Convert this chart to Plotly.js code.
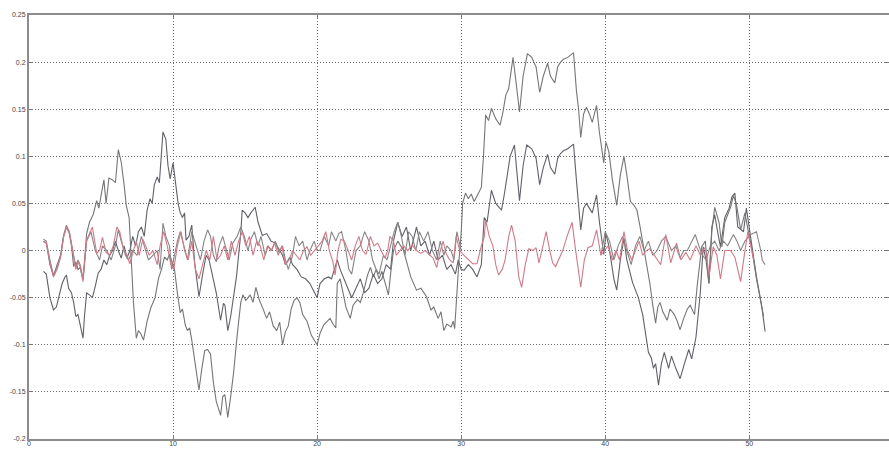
<!DOCTYPE html>
<html>
<head>
<meta charset="utf-8">
<script src="https://cdn.plot.ly/plotly-3.0.1.min.js"></script>
<style>
html,body{margin:0;padding:0;background:#fff;}
#chart{width:889px;height:449px;}
</style>
</head>
<body>
<div id="chart"></div>
<script>
// Series P (gray, starts lower)
const pX = [1.0,1.2,1.45,1.7,1.9,2.1,2.3,2.5,2.6,2.75,2.95,3.1,3.25,3.4,3.55,3.75,3.85,4.0,4.2,4.4,4.6,4.8,5.0,5.2,5.4,5.6,5.8,6.0,6.2,6.4,6.6,6.8,7.0,7.2,7.4,7.6,7.8,8.0,8.2,8.4,8.55,8.7,8.9,9.05,9.3,9.5,9.65,9.8,10.0,10.2,10.35,10.5,10.65,10.8,10.9,11.1,11.3,11.5,11.7,11.8,12.1,12.3,12.5,12.7,13.0,13.3,13.5,13.6,13.8,14.0,14.4,14.7,14.8,15.0,15.2,15.4,15.7,15.9,16.2,16.5,16.8,17.1,17.4,17.6,17.8,18.1,18.3,18.6,18.9,19.2,19.5,19.8,20.0,20.2,20.5,20.8,21.0,21.2,21.4,21.6,22.0,22.4,22.7,23.0,23.3,23.6,23.9,24.2,24.5,24.8,25.1,25.3,25.6,25.9,26.2,26.5,26.9,27.2,27.5,27.8,28.1,28.4,28.7,29.0,29.3,29.6,29.8,30.0,30.2,30.5,30.8,31.1,31.4,31.6,31.8,32.1,32.4,32.8,33.0,33.2,33.4,33.7,33.85,34.05,34.3,34.55,34.9,35.2,35.45,35.7,36.0,36.2,36.5,36.7,36.9,37.1,37.4,37.8,38.0,38.15,38.3,38.5,38.7,38.9,39.1,39.4,39.6,39.9,40.05,40.25,40.6,40.8,41.05,41.3,41.5,41.9,42.3,42.6,42.8,43.0,43.2,43.35,43.5,43.7,43.9,44.1,44.4,44.6,44.9,45.2,45.5,45.8,46.0,46.3,46.6,46.8,47.0,47.2,47.4,47.6,47.8,48.0,48.3,48.6,48.8,49.0,49.2,49.6,49.8,50.1,50.5,50.7,50.9,51.1];
const pY = [-0.022,-0.025,-0.05,-0.063,-0.06,-0.048,-0.035,-0.028,-0.026,-0.04,-0.045,-0.055,-0.07,-0.068,-0.078,-0.093,-0.07,-0.045,-0.047,-0.05,-0.038,-0.024,-0.02,-0.01,-0.015,-0.005,0.0,0.01,0.0,-0.008,0.005,-0.008,0.0,0.015,0.005,0.02,0.025,0.015,0.043,0.055,0.05,0.07,0.078,0.072,0.126,0.118,0.09,0.076,0.093,0.07,0.05,0.04,0.035,0.04,0.011,0.015,0.027,-0.013,-0.042,-0.049,-0.021,-0.005,-0.01,-0.025,-0.045,-0.074,-0.056,-0.058,-0.085,-0.07,-0.028,0.018,0.043,0.04,0.035,0.04,0.046,0.03,0.016,0.018,0.01,0.008,0.0,-0.005,-0.015,-0.007,-0.015,-0.02,-0.028,-0.03,-0.035,-0.045,-0.05,-0.035,-0.03,-0.028,-0.03,-0.02,-0.01,-0.02,-0.035,-0.05,-0.04,-0.03,-0.045,-0.04,-0.025,-0.035,-0.03,-0.015,-0.02,0.01,0.03,0.015,0.025,0.0,0.025,0.005,0.01,-0.005,0.01,-0.01,-0.005,-0.02,-0.015,-0.025,-0.01,-0.02,-0.021,-0.015,-0.02,-0.028,-0.015,0.035,0.03,0.064,0.05,0.043,0.06,0.082,0.1,0.112,0.085,0.053,0.09,0.112,0.108,0.098,0.07,0.088,0.102,0.088,0.081,0.098,0.103,0.106,0.108,0.113,0.075,0.05,0.022,0.045,0.05,0.045,0.04,0.059,0.03,-0.004,0.018,0.005,-0.03,-0.042,-0.01,0.013,-0.01,-0.034,-0.05,-0.068,-0.09,-0.108,-0.114,-0.125,-0.12,-0.143,-0.12,-0.108,-0.125,-0.112,-0.125,-0.136,-0.12,-0.105,-0.115,-0.092,-0.045,0.004,-0.01,-0.035,0.025,0.038,0.02,0.004,0.035,0.045,0.057,0.061,0.025,0.02,0.045,0.013,-0.028,-0.045,-0.063,-0.086];

// Series Q (gray, big excursions)
const qX = [1.0,1.2,1.45,1.7,1.95,2.2,2.4,2.6,2.8,2.95,3.1,3.25,3.4,3.55,3.75,4.0,4.2,4.45,4.7,4.85,5.0,5.2,5.35,5.55,5.8,6.0,6.2,6.4,6.6,6.75,6.95,7.1,7.25,7.45,7.6,7.75,7.95,8.2,8.45,8.75,9.0,9.2,9.4,9.6,9.75,9.95,10.1,10.3,10.5,10.65,10.85,11.0,11.15,11.3,11.5,11.65,11.8,12.0,12.2,12.4,12.6,12.8,13.0,13.3,13.45,13.6,13.8,14.0,14.2,14.45,14.7,14.85,15.05,15.35,15.55,15.75,16.0,16.2,16.5,16.7,16.95,17.2,17.4,17.6,17.8,18.0,18.2,18.4,18.6,18.8,19.0,19.3,19.6,20.0,20.2,20.45,20.7,20.9,21.1,21.3,21.4,21.6,21.8,22.0,22.3,22.5,22.8,23.0,23.2,23.5,23.7,23.9,24.1,24.3,24.5,24.8,24.95,25.1,25.3,25.6,26.0,26.5,26.9,27.2,27.6,27.9,28.1,28.4,28.6,28.8,29.0,29.3,29.45,29.55,29.7,29.85,30.0,30.1,30.3,30.5,30.7,30.9,31.1,31.4,31.55,31.7,31.9,32.1,32.4,32.7,32.9,33.1,33.3,33.6,33.8,34.05,34.3,34.6,34.9,35.2,35.45,35.7,36.0,36.2,36.5,36.7,36.9,37.1,37.4,37.8,38.0,38.15,38.3,38.5,38.7,38.9,39.1,39.4,39.6,39.9,40.05,40.25,40.5,40.8,41.05,41.3,41.5,41.75,42.0,42.2,42.4,42.7,43.1,43.3,43.5,43.65,43.8,44.0,44.3,44.5,44.8,45.0,45.2,45.45,45.7,45.9,46.2,46.4,46.7,46.95,47.2,47.4,47.6,47.9,48.1,48.3,48.7,48.9,49.1,49.4,49.7,49.9,50.2,50.5,50.8,51.0];
const qY = [0.01,0.008,-0.015,-0.027,-0.015,-0.005,0.015,0.025,0.018,0.005,-0.017,-0.012,-0.02,-0.018,-0.031,0.018,0.03,0.038,0.053,0.045,0.058,0.075,0.05,0.077,0.075,0.072,0.107,0.094,0.07,0.048,0.035,-0.01,-0.055,-0.093,-0.085,-0.088,-0.095,-0.075,-0.061,-0.05,-0.029,-0.02,-0.007,-0.01,-0.004,-0.013,-0.02,-0.045,-0.066,-0.062,-0.079,-0.085,-0.082,-0.095,-0.118,-0.13,-0.148,-0.125,-0.106,-0.105,-0.11,-0.14,-0.16,-0.175,-0.155,-0.153,-0.177,-0.155,-0.13,-0.09,-0.055,-0.047,-0.053,-0.047,-0.055,-0.039,-0.053,-0.06,-0.072,-0.065,-0.08,-0.085,-0.076,-0.1,-0.086,-0.08,-0.062,-0.053,-0.05,-0.055,-0.068,-0.075,-0.09,-0.1,-0.088,-0.079,-0.075,-0.072,-0.078,-0.082,-0.035,-0.03,-0.045,-0.06,-0.072,-0.058,-0.052,-0.055,-0.045,-0.026,-0.018,-0.028,-0.02,-0.03,-0.022,-0.039,-0.047,-0.025,0.0,0.01,0.0,-0.028,-0.042,-0.04,-0.049,-0.063,-0.06,-0.072,-0.065,-0.085,-0.078,-0.081,-0.075,-0.083,-0.042,-0.01,0.018,0.05,0.061,0.055,0.06,0.052,0.058,0.067,0.1,0.144,0.138,0.151,0.14,0.133,0.147,0.165,0.172,0.205,0.18,0.147,0.185,0.209,0.205,0.195,0.168,0.185,0.199,0.185,0.178,0.195,0.2,0.203,0.205,0.21,0.17,0.15,0.12,0.145,0.152,0.145,0.136,0.154,0.125,0.093,0.115,0.105,0.075,0.048,0.08,0.1,0.08,0.052,0.048,0.043,0.027,0.0,-0.035,-0.058,-0.077,-0.06,-0.055,-0.065,-0.074,-0.062,-0.068,-0.075,-0.084,-0.072,-0.062,-0.058,-0.068,-0.035,0.004,0.01,-0.035,0.02,0.046,0.03,0.004,0.03,0.046,0.058,0.05,0.022,0.04,0.023,0.0,-0.03,-0.055,-0.07];

// Series C (gray, near zero)
const cX = [1.0,1.2,1.45,1.7,1.95,2.2,2.4,2.6,2.8,3.1,3.25,3.4,3.55,3.75,4.0,4.3,4.6,4.9,5.1,5.4,5.7,6.0,6.2,6.4,6.7,6.9,7.2,7.5,7.8,8.1,8.3,8.6,8.9,9.1,9.3,9.5,9.75,9.9,10.1,10.3,10.5,10.8,11.0,11.3,11.6,11.9,12.15,12.4,12.6,12.8,13.0,13.2,13.45,13.7,13.9,14.15,14.45,14.7,14.95,15.2,15.4,15.65,15.9,16.1,16.4,16.6,16.85,17.1,17.35,17.6,17.8,18.0,18.3,18.5,18.75,19.0,19.3,19.5,19.8,20.0,20.2,20.5,20.8,21.0,21.3,21.5,21.7,22.0,22.2,22.4,22.7,23.0,23.3,23.6,23.85,24.1,24.3,24.6,24.85,25.1,25.35,25.6,25.85,26.1,26.35,26.6,26.85,27.1,27.4,27.7,28.0,28.3,28.55,28.8,29.0,29.3,29.5,29.7,30.0,35.0,39.7,40.0,40.3,40.6,40.9,41.2,41.5,41.8,42.1,42.4,42.7,43.0,43.3,43.6,43.9,44.2,44.6,44.9,45.2,45.45,45.7,46.0,46.25,46.5,46.75,47.0,47.3,47.6,47.9,48.2,48.5,48.9,49.15,49.4,49.7,50.1,50.5,50.8,50.9,51.1];
const cY = [0.012,0.01,-0.01,-0.026,-0.018,-0.004,0.016,0.027,0.02,-0.005,-0.018,-0.01,-0.015,-0.03,0.01,0.02,0.0,-0.01,0.005,0.0,-0.01,0.005,0.022,0.01,-0.005,-0.01,0.0,-0.005,0.015,0.0,-0.01,-0.005,0.0,-0.02,0.029,0.015,0.005,-0.02,-0.005,0.01,0.02,0.0,-0.01,0.02,0.005,-0.01,0.01,0.022,0.015,-0.005,-0.012,0.005,0.015,0.0,-0.01,0.008,0.015,0.025,0.015,0.0,0.012,0.02,0.005,0.015,-0.005,0.005,0.0,0.01,-0.002,0.005,-0.01,-0.02,-0.005,0.015,0.005,0.01,-0.01,0.0,0.01,0.0,0.0,0.015,0.005,0.02,0.01,0.018,0.02,0.0,-0.02,-0.025,0.0,0.005,0.02,0.01,-0.01,-0.02,-0.025,-0.005,-0.01,0.005,0.02,0.03,0.015,-0.005,0.02,0.015,0.0,0.02,0.01,0.02,0.0,-0.01,0.01,-0.005,0.005,0.0,-0.01,0.02,0.0,null,-0.005,0.02,0.01,-0.01,0.005,0.015,0.0,-0.015,0.005,0.015,0.0,0.01,-0.005,0.0,0.01,0.015,0.0,0.005,-0.008,0.0,0.0,0.01,0.017,0.005,-0.005,-0.01,0.005,0.01,0.0,0.01,0.005,0.017,0.01,0.0,0.01,0.017,0.02,0.0,-0.01,-0.015];

// Series R (red, near zero)
const rX = [1.0,1.2,1.45,1.7,1.95,2.2,2.4,2.6,2.8,3.1,3.25,3.4,3.55,3.75,4.0,4.4,4.7,4.9,5.1,5.35,5.6,5.85,6.1,6.3,6.55,6.8,7.0,7.25,7.45,7.65,7.9,8.1,8.35,8.6,8.9,9.1,9.35,9.6,9.85,10.05,10.3,10.55,10.8,11.05,11.3,11.55,11.8,12.05,12.3,12.55,12.8,13.05,13.3,13.55,13.8,14.05,14.3,14.55,14.8,15.05,15.3,15.55,15.8,16.05,16.3,16.55,16.8,17.05,17.3,17.55,17.8,18.05,18.3,18.55,18.8,19.05,19.3,19.55,19.8,20.05,20.35,20.6,20.85,21.1,21.25,21.45,21.65,21.9,22.15,22.4,22.65,22.9,23.15,23.4,23.7,23.95,24.2,24.45,24.7,24.9,25.05,25.3,25.5,25.75,26.0,26.3,26.6,26.9,27.2,27.5,27.8,28.05,28.3,28.55,28.75,28.95,29.2,29.45,29.65,29.9,30.2,30.5,30.8,31.1,31.4,31.6,31.7,31.95,32.2,32.4,32.6,32.85,33.05,33.3,33.5,33.75,34.0,34.2,34.45,34.7,35.0,35.2,35.4,35.65,35.9,36.15,36.35,36.55,36.8,37.05,37.35,37.7,37.95,38.3,38.55,38.8,39.1,39.4,39.7,39.95,40.2,40.5,40.75,41.0,41.3,41.55,41.85,42.1,42.35,42.6,42.85,43.1,43.4,43.85,44.2,44.55,44.95,45.25,45.6,45.9,46.3,46.6,46.9,47.0,47.2,47.5,47.75,48.0,48.3,48.7,49.0,49.4,49.7,49.9,50.1,50.3];
const rY = [0.009,0.008,-0.012,-0.028,-0.02,-0.007,0.014,0.025,0.02,-0.007,-0.02,-0.012,-0.017,-0.033,0.011,0.025,-0.003,0.0,0.014,-0.002,-0.005,0.005,0.025,0.02,0.002,-0.005,-0.014,0.0,0.01,-0.005,0.012,0.005,-0.005,0.0,-0.015,0.005,0.02,0.005,-0.015,-0.02,0.005,0.02,0.0,-0.01,0.01,-0.02,-0.03,-0.015,0.0,-0.01,0.015,-0.01,-0.005,0.005,-0.01,0.01,-0.005,0.01,0.02,0.005,0.015,-0.005,0.01,0.005,-0.01,0.005,0.0,0.008,-0.005,0.005,-0.015,-0.01,0.0,-0.005,-0.01,0.0,0.004,-0.005,0.0,0.005,0.01,0.02,0.0,-0.012,-0.026,0.0,0.012,0.01,0.0,-0.01,0.005,0.015,0.0,-0.004,0.015,0.005,0.008,0.0,-0.008,0.0,0.015,0.01,-0.005,0.0,0.005,0.0,0.006,0.0,-0.003,0.0,-0.005,-0.008,-0.018,0.0,0.01,-0.003,-0.01,-0.013,0.015,0.0,-0.005,-0.01,-0.014,-0.014,0.005,0.014,0.032,0.015,0.005,-0.015,-0.026,-0.02,-0.01,0.015,0.027,0.01,-0.028,-0.039,-0.015,0.002,0.0,0.003,-0.013,0.003,0.02,0.0,-0.013,-0.017,-0.008,0.0,0.015,0.03,0.0,-0.039,-0.01,0.003,0.005,0.022,-0.005,0.0,0.005,-0.01,0.0,-0.01,0.02,0.0,-0.01,0.0,0.01,-0.005,0.0,0.002,-0.005,-0.015,0.017,-0.013,0.008,-0.01,-0.002,-0.01,0.005,-0.005,0.003,0.0,-0.027,0.004,-0.005,-0.03,0.0,0.0,-0.007,-0.033,0.0,0.02,0.005,-0.01];

const xTicks = [0,10,20,30,40,50];
const xTickText = ['0','10','20','30','40','50'];
const yTicks = [-0.2,-0.15,-0.1,-0.05,0,0.05,0.1,0.15,0.2,0.25];
const yTickText = ['-0.2','-0.15','-0.1','-0.05','0','0.05','0.1','0.15','0.2','0.25'];

const lw = 1.1;
const traces = [
  {x:pX, y:pY, mode:'lines', line:{color:'#606169', width:lw}, hoverinfo:'skip'},
  {x:qX, y:qY, mode:'lines', line:{color:'#767676', width:lw}, hoverinfo:'skip'},
  {x:cX, y:cY, mode:'lines', line:{color:'#858585', width:lw}, hoverinfo:'skip'},
  {x:rX, y:rY, mode:'lines', line:{color:'#d07a88', width:lw}, hoverinfo:'skip'}
];

const axBase = {
  showline:true, linecolor:'#8c8c8c', linewidth:2, mirror:'ticks',
  ticks:'inside', ticklen:4, tickcolor:'#777', tickwidth:1,
  showgrid:true, gridcolor:'#6a6a6a', gridwidth:1, griddash:'1px,2px',
  zeroline:false,
  tickfont:{family:'Liberation Sans, Arial, sans-serif', size:7, color:'#444'}
};

const layout = {
  width:889, height:449,
  margin:{l:29, r:0, t:15, b:10, pad:0},
  paper_bgcolor:'#ffffff', plot_bgcolor:'#ffffff',
  showlegend:false,
  xaxis: Object.assign({}, axBase, {range:[0,59.7], tickmode:'array', tickvals:xTicks, ticktext:xTickText, ticklabelstandoff:-3}),
  yaxis: Object.assign({}, axBase, {range:[-0.2,0.25], tickmode:'array', tickvals:yTicks, ticktext:yTickText})
};

Plotly.newPlot('chart', traces, layout, {staticPlot:true, displayModeBar:false});
</script>
</body>
</html>
